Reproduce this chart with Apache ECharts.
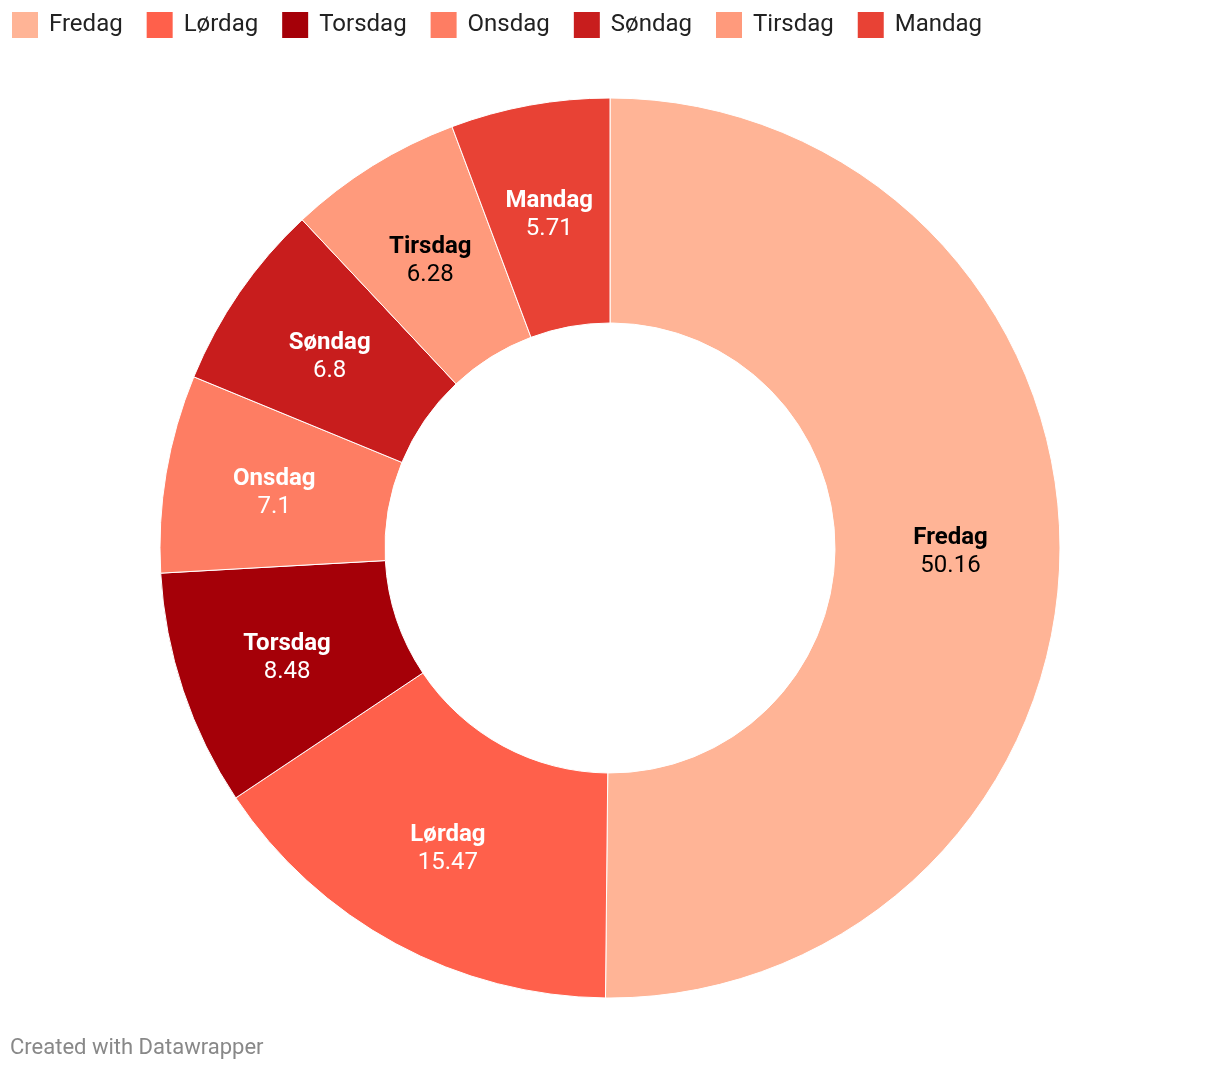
<!DOCTYPE html>
<html>
<head>
<meta charset="utf-8">
<script src="https://cdn.jsdelivr.net/npm/echarts@6/dist/echarts.min.js"></script>
<style>
  html, body { margin: 0; padding: 0; background: #ffffff; }
  #chart { width: 1220px; height: 1074px; }
</style>
</head>
<body>
<div id="chart"></div>
<script>
const days = ['Fredag', 'Lørdag', 'Torsdag', 'Onsdag', 'Søndag', 'Tirsdag', 'Mandag']
const values = [50.16, 15.47, 8.48, 7.1, 6.8, 6.28, 5.71]
const colors = ['#ffb496', '#ff604b', '#a50008', '#fe7d63', '#c81d1d', '#ff9a7c', '#e84235']
const darkLabel = ['Fredag', 'Tirsdag']

const chart = echarts.init(document.getElementById('chart'))

chart.setOption({
  animation: false,
  textStyle: { fontFamily: 'Roboto' },
  legend: {
    left: 10,
    top: 10,
    padding: 0,
    itemWidth: 28,
    itemHeight: 28,
    itemGap: 22,
    icon: 'rect',
    data: days,
    textStyle: {
      color: '#222222',
      fontSize: 24,
      padding: [0, 0, 0, 5]
    }
  },
  graphic: [
    {
      type: 'text',
      left: 10,
      top: 1037,
      style: {
        text: 'Created with Datawrapper',
        fill: '#888888',
        font: '22px Roboto'
      }
    }
  ],
  series: [
    {
      type: 'pie',
      center: [610, 548],
      radius: [225, 450],
      startAngle: 90,
      clockwise: true,
      silent: true,
      itemStyle: {
        borderColor: '#ffffff',
        borderWidth: 1
      },
      label: {
        position: 'inside',
        offset: [0, 2],
        formatter: (p) => `{b|${p.name}}\n{v|${p.value}}`,
        rich: {
          b: { fontSize: 24, fontWeight: 'bold', lineHeight: 28, fontFamily: 'Roboto' },
          v: { fontSize: 24, lineHeight: 28, fontFamily: 'Roboto' }
        }
      },
      labelLine: { show: false },
      data: days.map((name, i) => {
        const c = darkLabel.includes(name) ? '#000000' : '#ffffff'
        return {
          name,
          value: values[i],
          itemStyle: { color: colors[i] },
          label: { color: c, rich: { b: { color: c }, v: { color: c } } }
        }
      })
    }
  ]
})
</script>
</body>
</html>
